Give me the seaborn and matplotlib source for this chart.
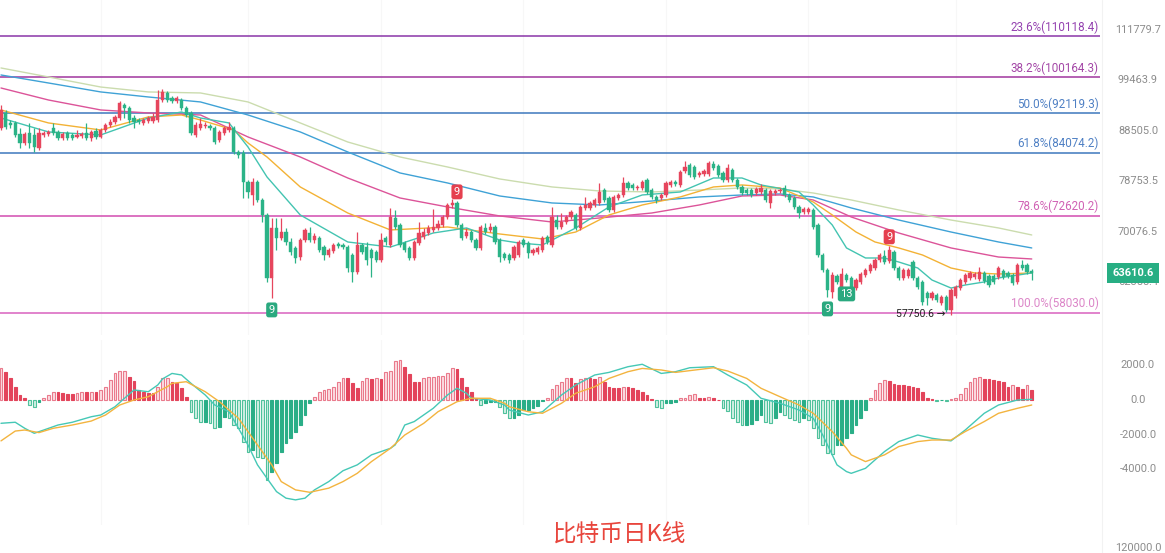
import numpy as np
import seaborn as sns
import matplotlib
matplotlib.use("Agg")
from matplotlib import pyplot as plt

sns.set_theme(style="white")
plt.rcParams['font.family'] = ['Roboto', 'DejaVu Sans']

# daily candles
opens = [89080, 92230, 90120, 90120, 87850, 86040, 88050, 87650, 85040, 87650,
         87850, 89080, 88260, 87040, 88050, 87650, 87240, 87440, 88050, 87040,
         88460, 87240, 88660, 89700, 90320, 91160, 93950, 93300, 91160, 90740,
         90120, 90530, 90530, 90740, 95040, 96600, 95490, 94830, 95040, 93300,
         92230, 87650, 89080, 89490, 89490, 89080, 86630, 88050, 88660, 89080,
         84260, 84060, 78600, 76270, 78600, 75390, 72820, 62930, 70660, 69040,
         70000, 68400, 67460, 66060, 68710, 69840, 68710, 69040, 67610, 66370,
         66990, 68080, 67930, 67610, 66370, 63810, 67930, 67610, 67140, 66830,
         65600, 69040, 67930, 72310, 71150, 68240, 67460, 65910, 68240, 69200,
         69840, 70330, 70660, 71150, 72480, 74520, 74870, 71150, 69360, 70000,
         68710, 67460, 70660, 70330, 70820, 68710, 66530, 66370, 65910, 66370,
         68710, 68240, 66680, 66830, 67140, 69200, 67930, 71970, 70820, 71640,
         72480, 72820, 70660, 74010, 74010, 74520, 74870, 77150, 75740, 73660,
         75740, 76270, 78420, 78060, 77520, 77520, 78960, 77150, 75920, 75740,
         76270, 78060, 78600, 78060, 80630, 81760, 81380, 79890, 80070, 80070,
         81950, 81570, 80260, 78960, 80810, 78960, 77700, 77150, 77150, 76620,
         76800, 77150, 74870, 76620, 76980, 77520, 76270, 75740, 74180, 73320,
         73320, 73660, 71150, 66370, 64100, 60920, 63220, 61480, 63370, 62930,
         61480, 62350, 63370, 63950, 64400, 65600, 66220, 65450, 66830, 64400,
         62930, 63220, 65300, 62930, 62350, 60780, 60080, 60500, 59390, 60220,
         58430, 60360, 61480, 62350, 62930, 63070, 62780, 63660, 63220, 63220,
         63070, 63950, 63660, 63370, 62350, 64850, 64850, 63950]
closes = [92870, 89280, 89700, 87650, 86040, 87850, 86040, 85240, 88050, 88050,
          88260, 88050, 87040, 87850, 87040, 87040, 87650, 87850, 87040, 88260,
          87240, 88660, 89700, 90320, 91380, 94390, 93300, 90740, 90320, 90320,
          90740, 91160, 91380, 95040, 96830, 95040, 94830, 95490, 93300, 91800,
          88050, 89700, 89910, 89700, 89080, 86230, 88260, 89080, 89280, 84260,
          83680, 78600, 76800, 78600, 75390, 72820, 62930, 70660, 69040, 70000,
          68400, 66830, 65910, 68710, 70330, 68710, 69360, 67140, 66370, 67140,
          67930, 67770, 67610, 64400, 63810, 67930, 66830, 65600, 65910, 65600,
          68710, 68400, 72480, 70820, 67930, 67140, 65910, 68400, 69840, 70000,
          70660, 70820, 71310, 72480, 74520, 74870, 71150, 69040, 70000, 68710,
          67460, 70820, 70000, 70820, 68400, 66060, 65910, 65600, 67610, 68400,
          67930, 66680, 67140, 67460, 69040, 68400, 72480, 70820, 71640, 72480,
          73320, 70660, 74180, 74520, 74870, 75390, 76800, 75390, 73660, 75920,
          76270, 78420, 77520, 77520, 77700, 78600, 76800, 75920, 75390, 76270,
          78420, 78600, 78240, 80440, 81380, 79890, 79520, 80260, 80630, 82140,
          81190, 79890, 78960, 81190, 78960, 77700, 76620, 76620, 76270, 77340,
          77520, 75390, 76980, 76980, 77150, 76270, 75390, 74180, 73150, 73830,
          73830, 70820, 66370, 64100, 61200, 63370, 62350, 63510, 62630, 61480,
          62630, 63510, 64100, 64850, 65600, 66370, 65300, 67140, 64400, 62930,
          64100, 64100, 62930, 61630, 59520, 60080, 60780, 59800, 60220, 58430,
          61200, 61630, 62630, 63370, 63660, 63510, 63810, 62490, 61910, 62350,
          64400, 63070, 63220, 62200, 64850, 64400, 63810, 63610.6]
highs = [93950, 92870, 90740, 90530, 89080, 88260, 90120, 89080, 89080, 88460,
         88660, 90120, 88660, 88260, 88460, 88050, 88660, 88260, 90120, 88660,
         89080, 89080, 90120, 90950, 91800, 94830, 94390, 93740, 91800, 91160,
         91160, 91590, 92230, 97270, 97500, 97050, 95940, 95940, 95490, 93740,
         92650, 90320, 91160, 90320, 89910, 89490, 88660, 89490, 90320, 89490,
         84650, 84650, 78960, 79330, 78960, 75740, 73150, 72310, 72310, 72310,
         70660, 69040, 67770, 69040, 70660, 70820, 69840, 69360, 67930, 67460,
         68240, 68400, 68240, 67930, 66680, 70000, 68240, 68400, 67460, 67140,
         69840, 69360, 74010, 73660, 71480, 68560, 67770, 68710, 71640, 70660,
         71150, 73830, 71970, 72820, 74870, 75560, 75210, 71480, 70660, 70330,
         69040, 71150, 71480, 71480, 71150, 69040, 66830, 66680, 67930, 68710,
         69040, 68560, 67460, 67770, 69360, 69520, 74180, 72820, 73150, 72820,
         73660, 73150, 74520, 75920, 75210, 75740, 78420, 77520, 76090, 76270,
         76620, 79520, 78780, 78420, 78060, 78960, 79330, 77520, 76270, 76620,
         78780, 78960, 78960, 80810, 82520, 82140, 81760, 80630, 81000, 82520,
         82520, 81950, 80630, 81950, 81190, 79330, 78060, 77520, 77520, 77700,
         78240, 77520, 77340, 77340, 77520, 78060, 76620, 76090, 74520, 74180,
         74180, 74010, 71480, 66680, 64400, 63810, 63510, 64400, 63660, 63220,
         62930, 63810, 64400, 65150, 65910, 66680, 67140, 67770, 67140, 64700,
         64400, 64400, 65600, 63220, 62630, 61060, 61060, 60780, 60500, 60500,
         61480, 61910, 62930, 63660, 63950, 63810, 64550, 63950, 63510, 63510,
         64700, 64250, 63950, 63660, 65150, 65600, 65150, 64250]
lows = [88660, 88870, 89080, 87240, 85040, 85640, 85040, 84260, 84650, 87240,
        87440, 87650, 86630, 86630, 86630, 86630, 87040, 87040, 86630, 86430,
        86830, 87040, 88260, 89280, 89910, 90740, 91160, 90120, 89080, 89910,
        89700, 90120, 90120, 90320, 94610, 94610, 94390, 94390, 92870, 91380,
        87650, 87240, 88660, 89080, 88660, 85840, 86230, 87650, 88260, 83870,
        83100, 75740, 75740, 74520, 75040, 71640, 62350, 60080, 67140, 68710,
        67930, 66370, 65150, 65600, 68400, 68400, 68240, 66830, 65600, 66060,
        66680, 67460, 67300, 63810, 62350, 63510, 66530, 64850, 63070, 65300,
        65300, 67930, 67610, 70490, 67610, 66830, 65600, 65600, 67930, 68880,
        69520, 70000, 70330, 70820, 72140, 74010, 70820, 68710, 69040, 68400,
        67140, 67140, 69680, 70000, 68080, 65300, 65600, 65150, 65600, 66060,
        67610, 65910, 66370, 66530, 66830, 68080, 67610, 70490, 70490, 71310,
        72140, 70330, 70330, 73660, 73660, 74180, 74520, 75040, 73320, 73320,
        75390, 75920, 77150, 77150, 77150, 77150, 76450, 75560, 74870, 75390,
        75920, 77700, 77880, 77700, 80260, 79520, 79150, 79520, 79700, 79700,
        80810, 79520, 78600, 78600, 78600, 77340, 76270, 76270, 75920, 76270,
        76450, 75040, 74010, 76270, 76620, 75920, 75040, 73830, 72310, 72990,
        72990, 70490, 66060, 63810, 60220, 60080, 62060, 61200, 62350, 61200,
        61200, 62060, 63070, 63660, 64100, 65300, 65000, 65150, 64100, 62630,
        62630, 62930, 62630, 61340, 59110, 59110, 59800, 59520, 59110, 58160,
        57750.6, 60080, 61200, 62060, 62630, 62780, 62490, 62200, 61630, 62060,
        62780, 62780, 62930, 61910, 62060, 64100, 63510, 62630]

# moving averages, read at knots (candle index -> price)
ma_fast_idx = [0, 10, 21, 31, 38, 42, 48, 52, 56, 63, 73, 82, 91, 98, 105, 109, 114, 121, 128, 135,
               143, 150, 156, 160, 168, 171, 175, 178, 182, 186, 189, 193, 196, 200, 203, 207, 210, 217]
ma_fast = [91160, 88260, 87650, 91160, 92440, 91160, 90120, 85240, 79520, 72820,
           68400, 67610, 69840, 70660, 68710, 68240, 67930, 70660, 74180, 76270,
           76800, 79330, 79330, 78060, 76800, 74520, 71150, 67460, 65910, 65910,
           65300, 64400, 62630, 61480, 61910, 62350, 62930, 63660]
ma_mid_idx = [0, 10, 21, 31, 38, 42, 49, 52, 56, 63, 73, 82, 94, 105, 114, 121, 128, 135, 143, 150,
              156, 164, 171, 175, 180, 184, 189, 194, 200, 205, 210, 217]
ma_mid = [92870, 90120, 88660, 91380, 91800, 90740, 88660, 86040, 83290, 77700,
          73150, 70330, 70820, 69680, 68880, 70000, 72820, 74520, 75920, 77700,
          78060, 77520, 75040, 72820, 70000, 68400, 67460, 66370, 64400, 63660,
          63510, 63660]
ma_slow_idx = [0, 10, 21, 31, 42, 52, 63, 73, 84, 94, 105, 116, 126, 137, 147, 156, 164, 171, 179, 189,
               200, 210, 217]
ma_pink = [97720, 95040, 92870, 92230, 91800, 87240, 83290, 79330, 75740, 74180,
           72650, 71640, 72310, 73150, 74520, 76090, 76270, 75390, 72480, 69840,
           67460, 66060, 65760]
ma_blue = [100710, 98860, 96830, 95710, 94610, 91800, 88260, 84260, 80260, 78420,
           76090, 74870, 74520, 75210, 75920, 76270, 76450, 75920, 74010, 71970,
           70000, 68400, 67460]
ma_pale = [102360, 100250, 97940, 96830, 96600, 94610, 90120, 86230, 83290, 81380,
           79150, 77700, 76980, 76800, 77150, 77520, 77340, 76620, 75390, 73660,
           71970, 70660, 69520]

# fibonacci retracement levels
fib_levels = [110118.4, 100164.3, 92119.3, 84074.2, 72620.2, 58030.0]
fib_labels = ["23.6%(110118.4)", "38.2%(100164.3)", "50.0%(92119.3)",
              "61.8%(84074.2)", "78.6%(72620.2)", "100.0%(58030.0)"]
fib_colors = ['#8a35a8', '#a0359e', '#3d78bd', '#3d78bd', '#d24cb0', '#d862bf']
fib_text_colors = ['#9442b0', '#a346a6', '#4f80c4', '#4f80c4', '#d062b4', '#dc86c8']

price_ticks = [111779.7, 99463.9, 88505.0, 78753.5, 70076.5, 62355.4]
last_price = 63610.6
low_price = 57750.6
low_idx = 200

# TD sequential marks
td_idx = [57, 96, 174, 178, 187]
td_num = ['9', '9', '9', '13', '9']
td_top = [False, True, False, False, True]

# MACD
macd_hist = [1830, 1640, 1250, 770, 290, 135, -290, -390, -100, 100,
             290, 440, 440, 390, 350, 350, 390, 440, 440, 480,
             480, 580, 770, 1160, 1540, 1680, 1700, 1350, 1100, 580,
             480, 390, 390, 770, 1250, 1290, 1060, 965, 680, 190,
             -680, -1060, -1250, -1250, -1350, -1640, -1540, -970, -1060, -1450,
             -1640, -2410, -2990, -2900, -3280, -3380, -4630, -4150, -3670, -2990,
             -2510, -2220, -1830, -1450, -870, -190, 190, 480, 580, 640,
             770, 1060, 1250, 1250, 965, 680, 1100, 1250, 1220, 1290,
             1220, 1600, 1680, 2260, 2300, 1930, 1490, 1060, 1020, 1250,
             1310, 1350, 1390, 1410, 1540, 1830, 1790, 1290, 770, 480,
             135, -290, -190, -135, -100, -390, -770, -1060, -1060, -870,
             -580, -580, -480, -330, -60, 100, 640, 870, 1060, 1250,
             1250, 965, 1220, 1250, 1250, 1220, 1350, 1060, 770, 710,
             680, 770, 770, 680, 580, 480, 290, 40, -390, -480,
             -190, -190, -135, 100, 135, 290, 330, 135, 100, 190,
             135, 20, -440, -640, -1060, -1250, -1450, -1450, -1410, -1160,
             -870, -1250, -1350, -1060, -680, -870, -1060, -1160, -1250, -1060,
             -1160, -1640, -2220, -2610, -3090, -3150, -2610, -2610, -2220, -1900,
             -1450, -1060, -580, 100, 580, 1000, 1160, 1100, 910, 870,
             870, 830, 770, 680, 440, 135, 60, -60, -20, -60,
             40, 135, 330, 710, 1060, 1250, 1350, 1220, 1200, 1160,
             1100, 1020, 770, 870, 770, 620, 870, 580]
dif_idx = [0, 3, 5, 7, 9, 12, 15, 19, 21, 24, 26, 28, 31, 33, 34, 36, 38, 40, 43, 45,
           48, 50, 52, 54, 56, 58, 60, 62, 64, 66, 69, 72, 75, 78, 82, 83, 85, 87, 91, 94,
           96, 98, 99, 103, 106, 107, 111, 114, 118, 121, 125, 128, 132, 135, 139, 142, 145, 150, 153, 157,
           160, 164, 168, 171, 173, 176, 178, 179, 182, 186, 189, 193, 196, 200, 203, 207, 210, 214, 217]
dif = [-1350, -1290, -1640, -1930, -1740, -1450, -1290, -970, -870, -390,
       100, 580, 480, 870, 1220, 1540, 1450, 965, 290, -290,
       -680, -1640, -2610, -3760, -4540, -5310, -5690, -5790, -5690, -5210,
       -4730, -4100, -3760, -3180, -2800, -2600, -1450, -1250, -480, 290,
       680, 390, 100, 0, -290, -580, -870, -680, 290, 870,
       1450, 1600, 1930, 2070, 1540, 1640, 1870, 1930, 1450, 870,
       100, -190, -580, -1060, -2030, -3760, -4150, -4250, -3960, -2990,
       -2410, -2030, -2220, -2370, -1740, -770, -290, 0, 40]
dea_idx = [0, 3, 5, 8, 11, 15, 19, 22, 25, 28, 31, 33, 35, 36, 39, 43, 46, 50, 53, 57,
           59, 62, 65, 69, 72, 75, 78, 82, 85, 89, 92, 96, 99, 103, 106, 107, 111, 114, 118, 121,
           125, 128, 132, 135, 139, 142, 150, 153, 157, 160, 164, 168, 171, 175, 178, 179, 182, 186, 189, 193,
           196, 200, 203, 207, 210, 214, 217]
dea = [-2370, -1800, -1740, -1890, -1640, -1450, -1220, -870, -290, 0,
       190, 480, 770, 965, 1060, 480, -100, -1060, -2220, -3760,
       -4730, -5210, -5350, -5110, -4730, -4250, -3570, -2800, -2030, -1350,
       -680, -100, 100, 100, -190, -390, -680, -770, -190, 390,
       770, 1250, 1640, 1830, 1740, 1600, 1870, 1680, 1250, 680,
       190, -290, -770, -1830, -2800, -3180, -3570, -3180, -2700, -2410,
       -2320, -2320, -1830, -1250, -770, -480, -290]
macd_ticks = [2000.0, 0.0, -2000.0, -4000.0]

grid_idx = [21, 52, 80, 110, 140, 170, 201]

RED = '#e6465d'
GREEN = '#2bb387'

W, H = 1165, 553
fig = plt.figure(figsize=(W / 100, H / 100), dpi=100)
fig.patch.set_facecolor('white')
ax = fig.add_axes([0, 1 - 335 / H, 1100 / W, 335 / H])
ax2 = fig.add_axes([0, 1 - 525 / H, 1100 / W, 185 / H])

o = np.array(opens, float)
c = np.array(closes, float)
hi = np.array(highs, float)
lo = np.array(lows, float)
x = np.arange(len(c))

# ---- price pane ----
ax.set_yscale('log')
for g in grid_idx:
    ax.axvline(g, color='#f7f7f7', lw=0.8, zorder=0)
    ax2.axvline(g, color='#f7f7f7', lw=0.8, zorder=0)

for lvl, c_line in zip(fib_levels, fib_colors):
    ax.axhline(lvl, color=c_line, lw=1.1, zorder=1)

sns.lineplot(x=ma_slow_idx, y=ma_pale, ax=ax, color='#cbdcae', lw=1.0, legend=False, zorder=2)
sns.lineplot(x=ma_slow_idx, y=ma_blue, ax=ax, color='#3fa2d6', lw=1.0, legend=False, zorder=2)
sns.lineplot(x=ma_slow_idx, y=ma_pink, ax=ax, color='#dc5499', lw=1.0, legend=False, zorder=2)
sns.lineplot(x=ma_mid_idx, y=ma_mid, ax=ax, color='#f3b235', lw=1.0, legend=False, zorder=2)
sns.lineplot(x=ma_fast_idx, y=ma_fast, ax=ax, color='#43c4b1', lw=1.0, legend=False, zorder=2)

col = np.where(c >= o, RED, GREEN)
ax.vlines(x, lo, hi, colors=col, lw=0.9, zorder=3)
body_lo = np.minimum(o, c)
body_h = np.maximum(np.abs(c - o), body_lo * 0.0015)
ax.bar(x, body_h, bottom=body_lo, width=0.68, color=col, edgecolor=col, linewidth=0.3, zorder=4)

ax.set_xlim(-0.21, 231.37)
ax.set_ylim(55140, 119817)

for lvl, lab, tc in zip(fib_levels, fib_labels, fib_text_colors):
    ax.annotate(lab, xy=(1, lvl), xycoords=('axes fraction', 'data'), xytext=(-1, 2),
                textcoords='offset points', ha='right', va='bottom', fontsize=8.4,
                color=tc, annotation_clip=False)

for p in price_ticks:
    ax.annotate(f"{p:.1f}", xy=(1138 / 1100, p), xycoords=('axes fraction', 'data'),
                ha='center', va='center', fontsize=7.9, color='#8c8c8c', annotation_clip=False)

ax.annotate(f"{last_price:.1f}", xy=(1133 / 1100, last_price), xycoords=('axes fraction', 'data'),
            ha='center', va='center', fontsize=8, color='white', fontweight='bold',
            bbox=dict(boxstyle='square,pad=0.45', fc='#27ae83', ec='none'),
            annotation_clip=False, zorder=6)

ax.annotate(f"{low_price:.1f} →", xy=(low_idx, low_price), xytext=(-4, 1), textcoords='offset points',
            ha='right', va='center', fontsize=7.6, color='#222222', zorder=6)

for i, t, top in zip(td_idx, td_num, td_top):
    if top:
        ax.annotate(t, xy=(i, hi[i]), xytext=(0, 3), textcoords='offset points', ha='center',
                    va='bottom', fontsize=8, color='white',
                    bbox=dict(boxstyle='round,pad=0.22', fc='#e5404f', ec='none'), zorder=7)
    else:
        ax.annotate(t, xy=(i, lo[i]), xytext=(0, -5), textcoords='offset points', ha='center',
                    va='top', fontsize=8, color='white',
                    bbox=dict(boxstyle='round,pad=0.22', fc='#2aa97f', ec='none'), zorder=7)
ax.set_axis_off()

# ---- MACD pane ----
hist = np.array(macd_hist, float)
prev = np.r_[0.0, hist[:-1]]
hollow = (np.abs(hist) > np.abs(prev)) | (np.sign(hist) != np.sign(prev))
faces, edges = [], []
for h, hol in zip(hist, hollow):
    if h >= 0:
        faces.append('#fcdde2' if hol else '#e3445b')
        edges.append('#ea7a8c' if hol else '#e3445b')
    else:
        faces.append('#d3f0e5' if hol else '#2aae87')
        edges.append('#4fc19c' if hol else '#2aae87')
ax2.bar(x, hist, width=0.62, color=faces, edgecolor=edges, linewidth=0.8, zorder=2)
sns.lineplot(x=dif_idx, y=dif, ax=ax2, color='#45c8b6', lw=1.0, legend=False, zorder=3)
sns.lineplot(x=dea_idx, y=dea, ax=ax2, color='#f3b43f', lw=1.0, legend=False, zorder=3)
ax2.set_xlim(-0.21, 231.37)
ax2.set_ylim(-7246, 3478)
for v in macd_ticks:
    ax2.annotate(f"{v:.1f}", xy=(1138 / 1100, v), xycoords=('axes fraction', 'data'),
                 ha='center', va='center', fontsize=7.9, color='#8c8c8c', annotation_clip=False)
ax2.set_axis_off()

fig.text(1138 / W, 1 - 548 / H, "120000.0", ha='center', va='center', fontsize=7.9, color='#8c8c8c')
fig.add_artist(plt.Line2D([1102 / W, 1102 / W], [0, 1], color='#f2f2f2', lw=0.8))
fig.text(620 / W, 1 - 535 / H, "比特币日K线", ha='center', va='center', fontsize=17,
         color='#e8453c', family=['Noto Sans CJK SC', 'DejaVu Sans'])

fig.savefig("out.png", dpi=100, facecolor='white')
